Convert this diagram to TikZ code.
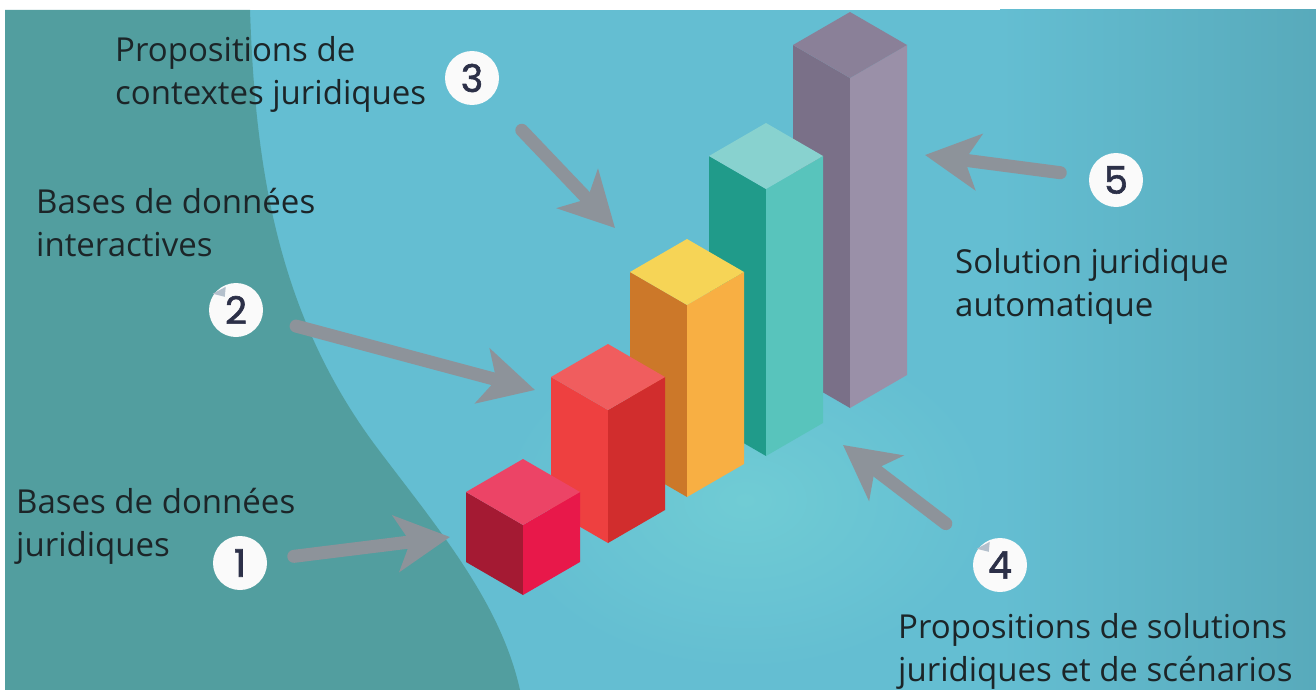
\documentclass[tikz,border=0pt]{standalone}
\usepackage{fontspec}
\setmainfont{Open Sans}
\newfontfamily\digitfont{Poppins}
\usetikzlibrary{arrows.meta}

\definecolor{bgdark}{HTML}{529E9F}
\definecolor{bglight}{HTML}{64BED2}
\definecolor{bgglow}{HTML}{70CCD4}
\definecolor{bgright}{HTML}{58AABB}
\definecolor{arrowgray}{HTML}{8D939A}
\definecolor{inkdark}{HTML}{1C2528}
\definecolor{badgeink}{HTML}{2C3048}
\definecolor{peelgray}{HTML}{B4C0CC}
\definecolor{cubetop}{HTML}{EC4466}
\definecolor{cubeleft}{HTML}{A41A33}
\definecolor{cuberight}{HTML}{E8184A}
\definecolor{redtop}{HTML}{F05D5E}
\definecolor{redleft}{HTML}{EE4040}
\definecolor{redright}{HTML}{D12D2D}
\definecolor{orangetop}{HTML}{F6D456}
\definecolor{orangeleft}{HTML}{CC7829}
\definecolor{orangeright}{HTML}{F8AF43}
\definecolor{tealtop}{HTML}{88D2CF}
\definecolor{tealleft}{HTML}{209B8A}
\definecolor{tealright}{HTML}{58C4BC}
\definecolor{purpletop}{HTML}{8A8098}
\definecolor{purpleleft}{HTML}{7A7088}
\definecolor{purpleright}{HTML}{9A90A8}

\tikzset{
  caption/.style={anchor=base west,align=left,inner sep=0pt,text=inkdark,
    font=\fontsize{33}{43}\selectfont},
  badge/.style={circle,fill=white!96!gray,minimum size=54pt,inner sep=0pt,
    text=badgeink,font=\digitfont\fontsize{38}{38}\selectfont\addfontfeature{FakeBold=1.6}},
  pointer/.style={draw=arrowgray,line width=13pt,line cap=round,
    -{Stealth[length=54pt,width=56pt,inset=14pt]}},
}

% front bottom x, y, height, top, left, right
\newcommand{\isobar}[6]{%
  \fill[#5] (#1,#2) -- ({#1-57},{#2-33}) -- ({#1-57},{#2-33-#3}) -- (#1,{#2-#3}) -- cycle;
  \fill[#6] (#1,#2) -- ({#1+57},{#2-33}) -- ({#1+57},{#2-33-#3}) -- (#1,{#2-#3}) -- cycle;
  \fill[#4] (#1,{#2-#3}) -- ({#1-57},{#2-33-#3}) -- (#1,{#2-66-#3}) -- ({#1+57},{#2-33-#3}) -- cycle;
}

\begin{document}
\begin{tikzpicture}[x=1pt,y=-1pt]
	\useasboundingbox (0,0) rectangle (1316,690);
	% background
	\fill[white] (0,0) rectangle (1316,690);
	\fill[bglight] (5,10) rectangle (1316,690);
	\shade[inner color=bgglow,outer color=bglight] (745,500) ellipse (245 and 170);
	\shade[left color=bglight,right color=bgright] (1000,10) rectangle (1316,690);
	\fill[bgdark] (5,10) -- (250,10) .. controls (255,160) and (275,310) .. (375,445)
		.. controls (435,525) and (500,600) .. (520,690) -- (5,690) -- cycle;
	%\draw[red] (0,0) grid[step=100] (1316,690);

	% bars, back to front
	\isobar{850}{408}{330}{purpletop}{purpleleft}{purpleright}
	\isobar{766}{456}{267}{tealtop}{tealleft}{tealright}
	\isobar{687}{497}{192}{orangetop}{orangeleft}{orangeright}
	\isobar{608}{543}{133}{redtop}{redleft}{redright}
	\isobar{523}{595}{70}{cubetop}{cubeleft}{cuberight}

	% numbers
	\node[badge] (n1) at (240,563) {1};
	\node[badge] (n2) at (236,310) {2};
	\node[badge] (n3) at (472,78) {3};
	\node[badge] (n4) at (1000,565) {4};
	\node[badge] (n5) at (1116,180) {5};
	% curled corners
	\fill[peelgray] ([shift={(-4,3)}]n2.north west) -- ([shift={(9,-4)}]n2.north west) -- ([shift={(8,6)}]n2.north west) -- cycle;
	\fill[peelgray] ([shift={(-4,3)}]n4.north west) -- ([shift={(9,-4)}]n4.north west) -- ([shift={(8,6)}]n4.north west) -- cycle;

	% arrow tips
	\coordinate (t1) at (450,537);
	\coordinate (t2) at (535,390);
	\coordinate (t3) at (615,228);
	\coordinate (t4) at (843,445);
	\coordinate (t5) at (925,155);
	\draw[pointer,shorten <=27pt] (n1) -- (t1);
	\draw[pointer,shorten <=35pt] (n2) -- (t2);
	\draw[pointer,shorten <=45pt] (n3) -- (t3);
	\draw[pointer,shorten <=41pt] (n4) -- (t4);
	\draw[pointer,shorten <=29pt] (n5) -- (t5);

	% labels (anchor on last line)
	\node[caption] (lab1) at (16,556) {Bases de données\\juridiques};
	\node[caption] (lab2) at (36,256) {Bases de données\\interactives};
	\node[caption] (lab3) at (115,105) {Propositions de\\contextes juridiques};
	\node[caption] (lab4) at (898,681) {Propositions de solutions\\juridiques et de scénarios};
	\node[caption] (lab5) at (955,316) {Solution juridique\\automatique};
\end{tikzpicture}
\end{document}
